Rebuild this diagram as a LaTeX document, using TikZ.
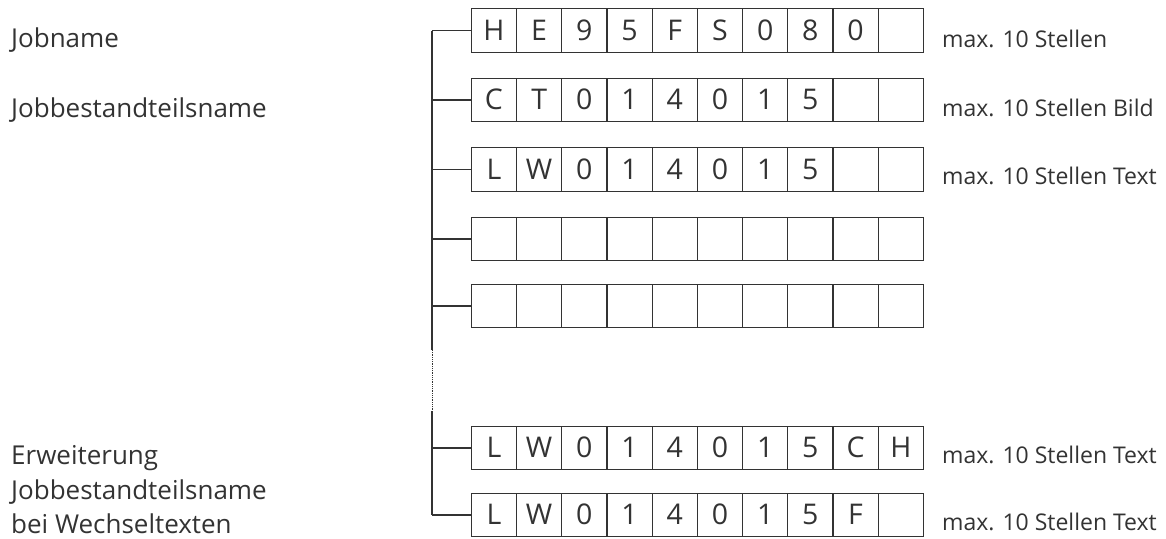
\documentclass[tikz,border=0pt]{standalone}
\usepackage{fontspec}
\setmainfont{Open Sans}
\definecolor{ink}{HTML}{333333}
\begin{document}
\begin{tikzpicture}[x=1pt,y=-1pt,
  line/.style={draw=ink, line width=1.3pt},
  cell/.style={draw=ink, line width=1.3pt, minimum width=45.2pt, minimum height=43.5pt,
    inner sep=0pt, anchor=west, text=ink, font=\fontsize{28.5}{28}\selectfont,
    text height=19pt, text depth=0pt},
  leftlabel/.style={anchor=base west, inner sep=0pt, text=ink, font=\fontsize{26}{30}\selectfont},
  rightlabel/.style={anchor=base west, inner sep=0pt, text=ink, font=\fontsize{23}{27}\selectfont}]
\useasboundingbox (0,0) rectangle (1166,538);
% rows of cells
\foreach \r/\y/\cells in {
  1/30.5/{H,E,9,5,F,S,0,8,0,{}},
  2/100/{C,T,0,1,4,0,1,5,{},{}},
  3/169.5/{L,W,0,1,4,0,1,5,{},{}},
  4/239/{{},{},{},{},{},{},{},{},{},{}},
  5/306/{{},{},{},{},{},{},{},{},{},{}},
  6/448/{L,W,0,1,4,0,1,5,C,H},
  7/515/{L,W,0,1,4,0,1,5,F,{}}}{
  \foreach \t [count=\c] in \cells {
    \node[cell] (r\r c\c) at ({470.7+(\c-1)*45.2},\y) {\t};
  }
}
% spine
\coordinate (top) at (432,30.5);
\coordinate (d1) at (432,350);
\coordinate (d2) at (432,411);
\coordinate (bot) at (432,515);
\draw[line] (top) -- (d1);
\draw[draw=ink, line width=1pt, dash pattern=on 0.9pt off 0.9pt] (d1) -- (d2);
\draw[line] (d2) -- (bot);
\foreach \r in {1,...,7}{
  \draw[line] (r\r c1.west) -- (r\r c1.west -| top);
}
% left labels
\node[leftlabel] (l1) at (11,47) {Jobname};
\node[leftlabel] (l2) at (11,117) {Jobbestandteilsname};
\node[leftlabel] (l3) at (11,464) {Erweiterung};
\node[leftlabel] (l4) at (11,499) {Jobbestandteilsname};
\node[leftlabel] (l5) at (11,533) {bei Wechseltexten};
% right labels
\node[rightlabel] (m1) at (942,47) {max. 10 Stellen};
\node[rightlabel] (m2) at (942,116.5) {max. 10 Stellen Bild};
\node[rightlabel] (m3) at (942,184) {max. 10 Stellen Text};
\node[rightlabel] (m6) at (942,463) {max. 10 Stellen Text};
\node[rightlabel] (m7) at (942,530) {max. 10 Stellen Text};
\end{tikzpicture}
\end{document}
